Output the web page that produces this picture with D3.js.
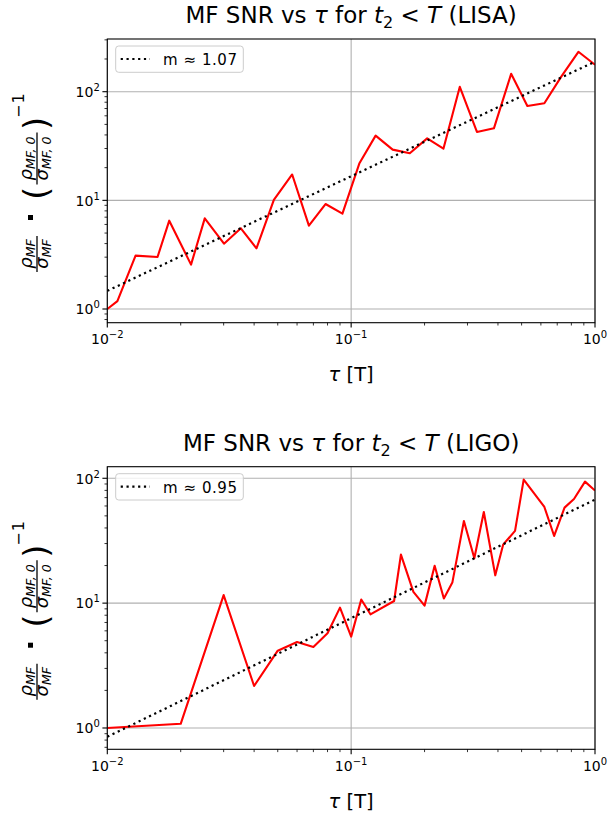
<!DOCTYPE html>
<html><head><meta charset="utf-8">
<script src="https://cdn.jsdelivr.net/npm/d3@7"></script>
<style>body{margin:0;background:#fff} text{font-family:"DejaVu Sans",sans-serif;fill:#000}</style>
</head><body><svg id="c" width="610" height="823"></svg>
<script>
// ---------- data ----------
const lisaTau = [0.01,0.011,0.01306,0.01607,0.01795,0.02205,0.0251,0.0301,0.0353,0.0409,0.0482,0.0573,0.0671,0.0785,0.0921,0.108,0.126,0.148,0.174,0.205,0.239,0.279,0.328,0.385,0.453,0.528,0.620,0.726,0.855,1.0];
const lisaSnr = [1.0,1.18,3.1,3.01,6.5,2.56,6.83,3.99,5.53,3.62,10.1,17.3,5.85,9.25,7.54,21.8,39.4,29.3,27.1,37.2,29.9,111,42.6,46,146,73.8,78.2,137,233,177];
const lisaFitTau = [0.01, 1];
const lisaFit = [1.47, 189];
const ligoTau = [0.01,0.02,0.03,0.04,0.05,0.06,0.07,0.08,0.09,0.1,0.11,0.12,0.15,0.16,0.18,0.2,0.22,0.24,0.26,0.29,0.32,0.35,0.39,0.42,0.47,0.51,0.62,0.68,0.75,0.82,0.91,1.0];
const ligoSnr = [1.0,1.08,11.6,2.17,4.16,4.88,4.46,5.73,9.2,5.39,10.7,8.14,10.4,24.5,12.3,9.55,19.9,10.9,14.6,45.5,22.9,53.7,16.7,29.4,37.9,97.5,58.9,34.5,58.2,68.2,94,79.7];
const ligoFitTau = [0.01, 1];
const ligoFit = [0.85, 67.5];
const detectors = ["LISA", "LIGO"];
const slopeLabels = ["1.07", "0.95"];
const xTickVals = [0.01, 0.1, 1];
const xTickExps = ["−2", "−1", "0"];
const yTickVals = [1, 10, 100];
const yTickExps = ["0", "1", "2"];

// ---------- layout ----------
const svg = d3.select("#c");
const panels = [
  {tau: lisaTau, snr: lisaSnr, fitTau: lisaFitTau, fit: lisaFit, det: detectors[0], slope: slopeLabels[0],
   top: 39, bottom: 322.7, yDom: [0.748, 305.5]},
  {tau: ligoTau, snr: ligoSnr, fitTau: ligoFitTau, fit: ligoFit, det: detectors[1], slope: slopeLabels[1],
   top: 466.7, bottom: 749.3, yDom: [0.675, 123.8]}
];
const L = 107.3, R = 595;

panels.forEach((p, i) => {
  const x = d3.scaleLog().domain([0.01, 1]).range([L, R]);
  const y = d3.scaleLog().domain(p.yDom).range([p.bottom, p.top]);
  const g = svg.append("g");
  const clipId = "clip" + i;
  svg.append("clipPath").attr("id", clipId).append("rect")
    .attr("x", L).attr("y", p.top).attr("width", R - L).attr("height", p.bottom - p.top);

  // grid
  xTickVals.forEach(v => g.append("line").attr("x1", x(v)).attr("x2", x(v)).attr("y1", p.top).attr("y2", p.bottom)
    .attr("stroke", "#b0b0b0").attr("stroke-width", 1.1));
  yTickVals.forEach(v => g.append("line").attr("x1", L).attr("x2", R).attr("y1", y(v)).attr("y2", y(v))
    .attr("stroke", "#b0b0b0").attr("stroke-width", 1.1));

  // data line
  const line = d3.line().x((d, k) => x(p.tau[k])).y((d, k) => y(p.snr[k]));
  g.append("path").attr("d", line(p.snr)).attr("fill", "none").attr("stroke", "#ff0000")
    .attr("stroke-width", 2.1).attr("stroke-linejoin", "round").attr("clip-path", `url(#${clipId})`);
  // fit line
  const fline = d3.line().x((d, k) => x(p.fitTau[k])).y((d, k) => y(p.fit[k]));
  g.append("path").attr("d", fline(p.fit)).attr("fill", "none").attr("stroke", "#000")
    .attr("stroke-width", 2.2).attr("stroke-dasharray", "2.2,3.6").attr("clip-path", `url(#${clipId})`);

  // axes (ticks)
  const xMinor = [];
  [0.01, 0.1].forEach(d => { for (let k = 2; k <= 9; k++) xMinor.push(d * k); });
  xMinor.forEach(v => g.append("line").attr("x1", x(v)).attr("x2", x(v)).attr("y1", p.bottom).attr("y2", p.bottom + 2.8)
    .attr("stroke", "#000").attr("stroke-width", 0.8));
  xTickVals.forEach((v, k) => {
    g.append("line").attr("x1", x(v)).attr("x2", x(v)).attr("y1", p.bottom).attr("y2", p.bottom + 4.9)
      .attr("stroke", "#000").attr("stroke-width", 1.1);
    const t = g.append("text").attr("x", x(v)).attr("y", p.bottom + 21.3).attr("text-anchor", "middle")
      .attr("font-size", 14);
    t.append("tspan").text("10");
    t.append("tspan").attr("dy", -6).attr("font-size", 10).text(xTickExps[k]);
  });
  const yMinor = [];
  [0.1, 1, 10, 100].forEach(d => { for (let k = 2; k <= 9; k++) { const v = d * k; if (v >= p.yDom[0] && v <= p.yDom[1]) yMinor.push(v); } });
  yMinor.forEach(v => g.append("line").attr("x1", L - 2.8).attr("x2", L).attr("y1", y(v)).attr("y2", y(v))
    .attr("stroke", "#000").attr("stroke-width", 0.8));
  yTickVals.forEach((v, k) => {
    g.append("line").attr("x1", L - 4.9).attr("x2", L).attr("y1", y(v)).attr("y2", y(v))
      .attr("stroke", "#000").attr("stroke-width", 1.1);
    const t = g.append("text").attr("x", L - 7.5).attr("y", y(v) + 5.3).attr("text-anchor", "end")
      .attr("font-size", 14);
    t.append("tspan").text("10");
    t.append("tspan").attr("dy", -6).attr("font-size", 10).text(yTickExps[k]);
  });
  // spines
  g.append("rect").attr("x", L).attr("y", p.top).attr("width", R - L).attr("height", p.bottom - p.top)
    .attr("fill", "none").attr("stroke", "#000").attr("stroke-width", 1.1);

  // legend
  const ly = p.top + 7;
  g.append("rect").attr("x", 115.7).attr("y", ly).attr("width", 127.6).attr("height", 26.3).attr("rx", 3)
    .attr("fill", "#fff").attr("fill-opacity", 0.8).attr("stroke", "#cccccc").attr("stroke-width", 1);
  g.append("line").attr("x1", 120.7).attr("x2", 150).attr("y1", ly + 13).attr("y2", ly + 13)
    .attr("stroke", "#000").attr("stroke-width", 2.2).attr("stroke-dasharray", "2.2,3.6");
  g.append("text").attr("x", 163).attr("y", ly + 19).attr("font-size", 15)
    .attr("textLength", 74).text("m ≈ " + p.slope);

  // title
  const cx = (L + R) / 2;
  const tt = g.append("text").attr("x", cx).attr("y", p.top - 16).attr("text-anchor", "middle").attr("font-size", 23);
  tt.append("tspan").text("MF SNR vs ");
  tt.append("tspan").attr("font-style", "italic").text("τ");
  tt.append("tspan").text(" for ");
  tt.append("tspan").attr("font-style", "italic").text("t");
  tt.append("tspan").attr("font-size", 16).attr("dy", 5).text("2");
  tt.append("tspan").attr("dy", -5).text(" < ");
  tt.append("tspan").attr("font-style", "italic").text("T");
  tt.append("tspan").text(" (" + p.det + ")");

  // x label
  const xl = g.append("text").attr("x", cx).attr("y", p.bottom + 58.3).attr("text-anchor", "middle").attr("font-size", 19.5);
  xl.append("tspan").attr("font-style", "italic").text("τ");
  xl.append("tspan").text(" [T]");

  // y label (rotated)
  const y0 = p.top + 236; // bottom of label
  const yl = g.append("g").attr("transform", `translate(37,${y0}) rotate(-90)`);
  function frac(gx, cxl, w, num, den, sub) {
    gx.append("line").attr("x1", cxl - w / 2).attr("x2", cxl + w / 2).attr("y1", 0).attr("y2", 0)
      .attr("stroke", "#000").attr("stroke-width", 1.3);
    const n = gx.append("text").attr("x", cxl).attr("y", -5.3).attr("text-anchor", "middle").attr("font-size", 18).attr("font-style", "italic");
    n.append("tspan").text(num);
    n.append("tspan").attr("font-size", 12.6).attr("dy", 3).text(sub);
    const d = gx.append("text").attr("x", cxl).attr("y", 10.5).attr("text-anchor", "middle").attr("font-size", 18).attr("font-style", "italic");
    d.append("tspan").text(den);
    d.append("tspan").attr("font-size", 12.6).attr("dy", 3).text(sub);
  }
  frac(yl, 21, 36, "ρ", "σ", "MF");
  yl.append("rect").attr("x", 55).attr("y", -9).attr("width", 5).attr("height", 5).attr("fill", "#000");
  yl.append("text").attr("x", 75).attr("y", 10.6).attr("font-size", 34).text("(");
  frac(yl, 116.5, 52, "ρ", "σ", "MF, 0");
  yl.append("text").attr("x", 145).attr("y", 10.6).attr("font-size", 34).text(")");
  yl.append("text").attr("x", 157).attr("y", -13).attr("font-size", 16).attr("letter-spacing", 1).text("−1");
});
</script></body></html>
